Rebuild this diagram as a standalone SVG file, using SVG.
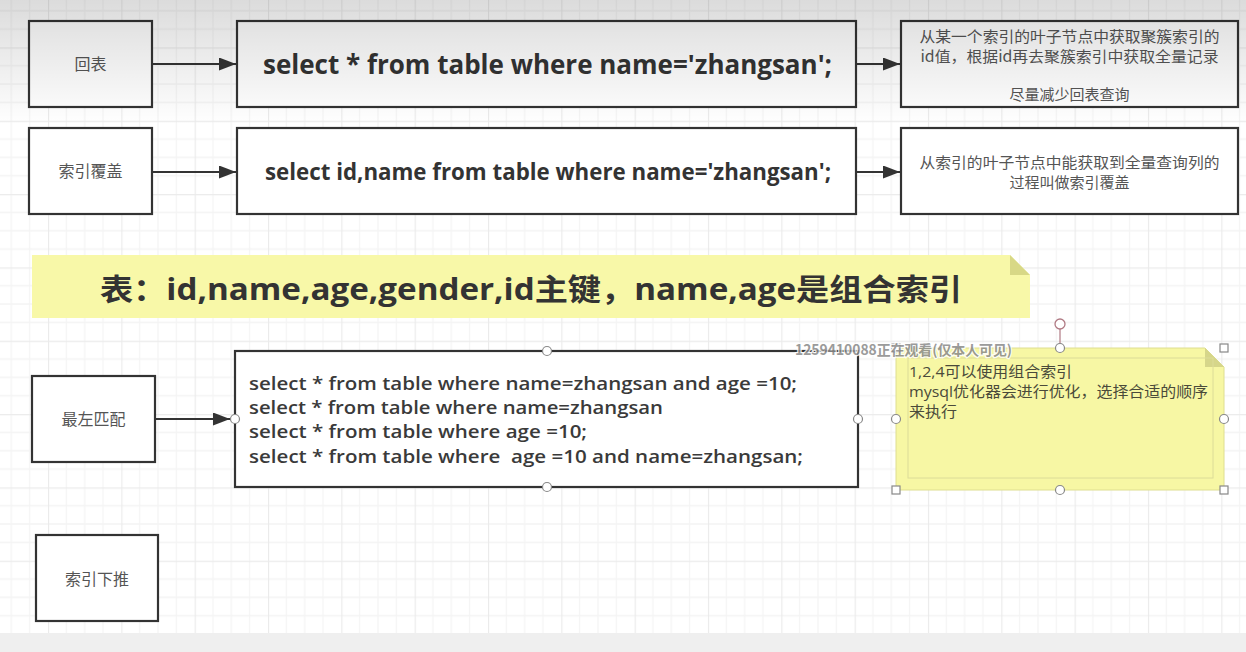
<svg xmlns="http://www.w3.org/2000/svg" width="1246" height="652" viewBox="0 0 1246 652">
<style>
.box{fill:#ffffff;stroke:#333333;stroke-width:2.2}
.lbl{font-family:"Noto Sans CJK SC","Noto Sans",sans-serif;font-size:16px;fill:#555555;text-anchor:middle}
.sqlb{font-family:"Open Sans","Noto Sans CJK SC",sans-serif;font-weight:700;fill:#333333}
.sql{font-family:"Open Sans","Noto Sans CJK SC",sans-serif;font-weight:600;font-size:18.5px;fill:#3a3a3a;white-space:pre}
.desc{font-family:"Noto Sans CJK SC",sans-serif;font-size:15px;fill:#555555;text-anchor:middle}
.note{font-family:"Open Sans","Noto Sans CJK SC",sans-serif;font-size:15px;fill:#4a4a3a}
.conn{stroke:#333333;stroke-width:2.2;fill:none}
.hc{fill:#ffffff;stroke:#888888;stroke-width:1.2}
</style>
<defs>
<pattern id="grid" patternUnits="userSpaceOnUse" x="48" y="47.4" width="73.33" height="73.33">
<path d="M18.33,0V73.33M36.67,0V73.33M55,0V73.33M0,18.33H73.33M0,36.67H73.33M0,55H73.33" stroke="#f4f4f4" stroke-width="1.3" fill="none"/>
<path d="M0.5,0V73.33M0,0.5H73.33" stroke="#ebebeb" stroke-width="1.3" fill="none"/>
</pattern>
<linearGradient id="shade" x1="0" y1="0" x2="0" y2="1">
<stop offset="0" stop-color="#000000" stop-opacity="0.14"/>
<stop offset="1" stop-color="#000000" stop-opacity="0"/>
</linearGradient>
<marker id="arr" markerUnits="userSpaceOnUse" markerWidth="18" markerHeight="14" refX="17" refY="6.5" orient="auto">
<path d="M0,0 L17,6.5 L0,13 Z" fill="#333333"/>
</marker>
</defs>
<rect x="0" y="0" width="1246" height="652" fill="#ffffff"/>
<rect x="0" y="0" width="1246" height="652" fill="url(#grid)"/>

<g id="connectors">
<path class="conn" d="M153,64 H236" marker-end="url(#arr)"/>
<path class="conn" d="M857,64 H900" marker-end="url(#arr)"/>
<path class="conn" d="M153,172 H236" marker-end="url(#arr)"/>
<path class="conn" d="M857,172 H900" marker-end="url(#arr)"/>
<path class="conn" d="M156,419 H230" marker-end="url(#arr)"/>
</g>

<g id="node-huibiao">
<rect class="box" x="29" y="21" width="123" height="86"/>
<text class="lbl" x="90.5" y="70">回表</text>
</g>
<g id="node-sql1">
<rect class="box" x="237" y="21" width="619" height="86"/>
<text class="sqlb" x="263" y="74" font-size="26" textLength="569" lengthAdjust="spacingAndGlyphs">select * from table where name='zhangsan';</text>
</g>
<g id="node-desc1">
<rect class="box" x="901" y="21" width="337" height="86"/>
<text class="desc" x="1069.5" y="41.5" textLength="300" lengthAdjust="spacingAndGlyphs">从某一个索引的叶子节点中获取聚簇索引的</text>
<text class="desc" x="1069.5" y="62" textLength="298" lengthAdjust="spacingAndGlyphs">id值，根据id再去聚簇索引中获取全量记录</text>
<text class="desc" x="1069.5" y="100">尽量减少回表查询</text>
</g>

<g id="node-fugai">
<rect class="box" x="29" y="128" width="123" height="86"/>
<text class="lbl" x="90.5" y="177">索引覆盖</text>
</g>
<g id="node-sql2">
<rect class="box" x="237" y="128" width="619" height="86"/>
<text class="sqlb" x="265" y="180" font-size="23" textLength="566" lengthAdjust="spacingAndGlyphs">select id,name from table where name='zhangsan';</text>
</g>
<g id="node-desc2">
<rect class="box" x="901" y="128" width="337" height="86"/>
<text class="desc" x="1069.5" y="167.5" textLength="300" lengthAdjust="spacingAndGlyphs">从索引的叶子节点中能获取到全量查询列的</text>
<text class="desc" x="1069.5" y="188">过程叫做索引覆盖</text>
</g>

<g id="node-banner">
<path d="M32,255 H1010 L1030,275 V318 H32 Z" fill="#f8f8a8"/>
<path d="M1010,255 V275 H1030 Z" fill="#d8d886"/>
<text class="sqlb" x="100" y="300" font-size="30" fill="#2e2e22" textLength="862" lengthAdjust="spacingAndGlyphs">表：id,name,age,gender,id主键，name,age是组合索引</text>
</g>

<g id="node-zuizuo">
<rect class="box" x="32" y="376" width="123" height="86"/>
<text class="lbl" x="93.5" y="425">最左匹配</text>
</g>
<g id="node-sql3">
<rect class="box" x="235" y="351" width="623" height="136"/>
<text class="sql" x="249" y="389.5" textLength="548" lengthAdjust="spacingAndGlyphs">select * from table where name=zhangsan and age =10;</text>
<text class="sql" x="249" y="413.5" textLength="414" lengthAdjust="spacingAndGlyphs">select * from table where name=zhangsan</text>
<text class="sql" x="249" y="437.5" textLength="338" lengthAdjust="spacingAndGlyphs">select * from table where age =10;</text>
<text class="sql" x="249" y="462.5" textLength="554" lengthAdjust="spacingAndGlyphs">select * from table where  age =10 and name=zhangsan;</text>
<circle class="hc" cx="547" cy="351" r="4.5"/>
<circle class="hc" cx="547" cy="487" r="4.5"/>
<circle class="hc" cx="235" cy="419" r="4.5"/>
<circle class="hc" cx="858" cy="419" r="4.5"/>
</g>

<g id="node-note">
<path d="M896,348 H1205 L1224,367 V490 H896 Z" fill="#f7f7a4" stroke="#dede90" stroke-width="1"/>
<path d="M1205,348 V367 H1224 Z" fill="#d6d68a"/>
<rect x="908" y="358" width="305" height="120" fill="none" stroke="#dcdc98" stroke-width="1"/>
<text class="note" x="909" y="377" textLength="163" lengthAdjust="spacingAndGlyphs">1,2,4可以使用组合索引</text>
<text class="note" x="909" y="397" textLength="299" lengthAdjust="spacingAndGlyphs">mysql优化器会进行优化，选择合适的顺序</text>
<text class="note" x="909" y="417" textLength="48" lengthAdjust="spacingAndGlyphs">来执行</text>
<path d="M1060,329 V344" stroke="#b07a84" stroke-width="1.2"/>
<circle cx="1060" cy="324" r="5" fill="#ffffff" stroke="#b07a84" stroke-width="1.3"/>
<circle class="hc" cx="1060" cy="348" r="4.5"/>
<circle class="hc" cx="1060" cy="490" r="4.5"/>
<circle class="hc" cx="896" cy="419" r="4.5"/>
<circle class="hc" cx="1224" cy="419" r="4.5"/>
<rect class="hc" x="892" y="344" width="8" height="8"/>
<rect class="hc" x="1220" y="344" width="8" height="8"/>
<rect class="hc" x="892" y="486" width="8" height="8"/>
<rect class="hc" x="1220" y="486" width="8" height="8"/>
</g>

<g id="node-xiatui">
<rect class="box" x="36" y="535" width="122" height="86"/>
<text class="lbl" x="97" y="585">索引下推</text>
</g>

<text x="795" y="355" font-family="'Noto Sans CJK SC',sans-serif" font-size="14" font-weight="700" fill="#8a8a8a" stroke="#ffffff" stroke-width="2.5" paint-order="stroke" opacity="0.85" textLength="217" lengthAdjust="spacingAndGlyphs">1259410088正在观看(仅本人可见)</text>

<rect x="0" y="0" width="1246" height="125" fill="url(#shade)"/>
<rect x="0" y="633" width="1246" height="19" fill="#efefef"/>
</svg>
